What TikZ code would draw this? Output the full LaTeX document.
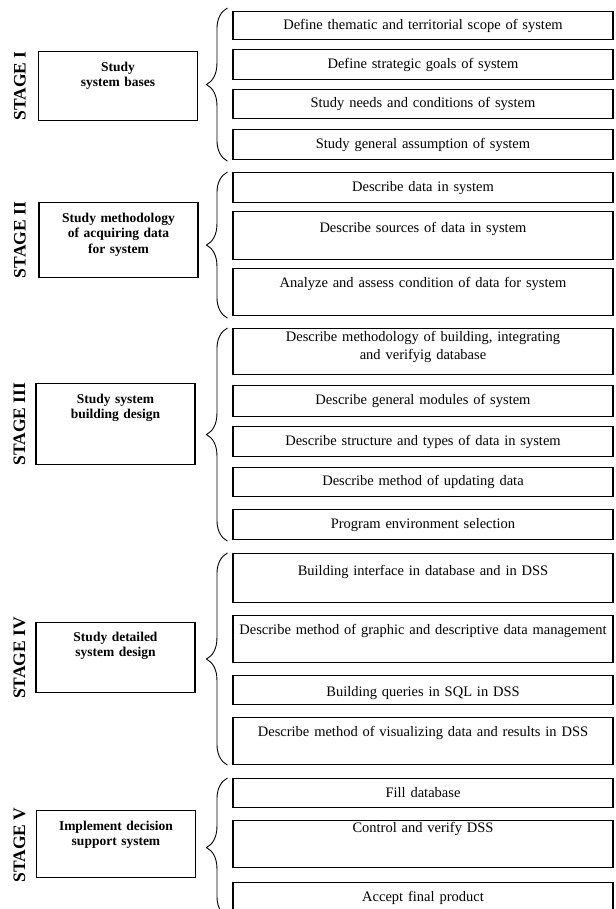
\documentclass[tikz,border=0pt]{standalone}
\usepackage{fontspec}
\setmainfont{Liberation Serif}
\usetikzlibrary{decorations.pathreplacing}
\begin{document}
\begin{tikzpicture}[x=1pt,y=-1pt,
  stage/.style={rotate=90,inner sep=0pt,font=\fontsize{17.5}{20}\selectfont\bfseries},
  task/.style={draw,line width=1.1pt,inner sep=0pt,text width=159pt,align=center,anchor=north,font=\fontsize{13.5}{15.5}\selectfont\bfseries},
  item/.style={draw,line width=1.1pt,inner sep=0pt,text width=380pt,align=center,anchor=north,font=\fontsize{14.5}{18}\selectfont},
  brc/.style={decorate,decoration={brace,amplitude=21pt},line width=0.9pt}]
  \useasboundingbox (0,0) rectangle (615,909);

  \node[stage] (st1) at (20,86) {STAGE I};
  \node[stage] (st2) at (20,240) {STAGE II};
  \node[stage] (st3) at (19.5,424) {STAGE III};
  \node[stage] (st4) at (19.5,658) {STAGE IV};
  \node[stage] (st5) at (19.5,845) {STAGE V};

  \node[task,text height=19.5pt,text depth=49.5pt] (t1) at (118,51) {Study\\system bases};
  \node[task,text height=19.5pt,text depth=55.5pt] (t2) at (118.5,202) {Study methodology\\of acquiring data\\for system};
  \node[task,text height=19.5pt,text depth=61.5pt] (t3) at (115.5,383) {Study system\\building design};
  \node[task,text height=18.5pt,text depth=51.5pt] (t4) at (115.5,622) {Study detailed\\system design};
  \node[task,text height=19.5pt,text depth=47.5pt] (t5) at (116,810) {Implement decision\\support system};

  \node[item,text height=17.5pt,text depth=10.5pt] (s1a) at (423,11) {Define thematic and territorial scope of system};
  \node[item,text height=18.5pt,text depth=11.5pt] (s1b) at (423,49) {Define strategic goals of system};
  \node[item,text height=18pt,text depth=11pt] (s1c) at (423,89) {Study needs and conditions of system};
  \node[item,text height=18.5pt,text depth=11.5pt] (s1d) at (423,129) {Study general assumption of system};

  \node[item,text height=18.5pt,text depth=11.5pt] (s2a) at (423,172) {Describe data in system};
  \node[item,text height=20.5pt,text depth=27.5pt] (s2b) at (423,211) {Describe sources of data in system};
  \node[item,text height=18.5pt,text depth=28.5pt] (s2c) at (423,268) {Analyze and assess condition of data for system};

  \node[item,text height=12.5pt,text depth=33.5pt] (s3a) at (423,328) {Describe methodology of building, integrating\\and verifyig database};
  \node[item,text height=19pt,text depth=12pt] (s3b) at (423,385) {Describe general modules of system};
  \node[item,text height=18.5pt,text depth=11.5pt] (s3c) at (423,426) {Describe structure and types of data in system};
  \node[item,text height=18pt,text depth=11pt] (s3d) at (423,467) {Describe method of updating data};
  \node[item,text height=18.5pt,text depth=11.5pt] (s3e) at (423,509) {Program environment selection};

  \node[item,text height=21.5pt,text depth=27.5pt] (s4a) at (423,553) {Building interface in database and in DSS};
  \node[item,text height=18.5pt,text depth=28.5pt] (s4b) at (423,615) {Describe method of graphic and descriptive data management};
  \node[item,text height=20.5pt,text depth=8.5pt] (s4c) at (423,675) {Building queries in SQL in DSS};
  \node[item,text height=18.5pt,text depth=28.5pt] (s4d) at (423,717) {Describe method of visualizing data and results in DSS};

  \node[item,text height=18.5pt,text depth=10.5pt] (s5a) at (423,778) {Fill database};
  \node[item,text height=11.5pt,text depth=35.5pt] (s5b) at (423,820) {Control and verify DSS};
  \node[item,text height=18.5pt,text depth=29.5pt] (s5c) at (423,882) {Accept final product};

  \draw[brc] ([xshift=-5pt,yshift=-1pt]s1d.south west) -- ([xshift=-5pt,yshift=3pt]s1a.north west);
  \draw[brc] ([xshift=-5pt,yshift=-2pt]s2c.south west) -- ([xshift=-5pt]s2a.north west);
  \draw[brc] ([xshift=-5pt,yshift=-1pt]s3e.south west) -- ([xshift=-5pt]s3a.north west);
  \draw[brc] ([xshift=-5pt]s4d.south west) -- ([xshift=-5pt]s4a.north west);
  \draw[brc] ([xshift=-5pt,yshift=14pt]s5c.south west) -- ([xshift=-5pt]s5a.north west);
\end{tikzpicture}
\end{document}
